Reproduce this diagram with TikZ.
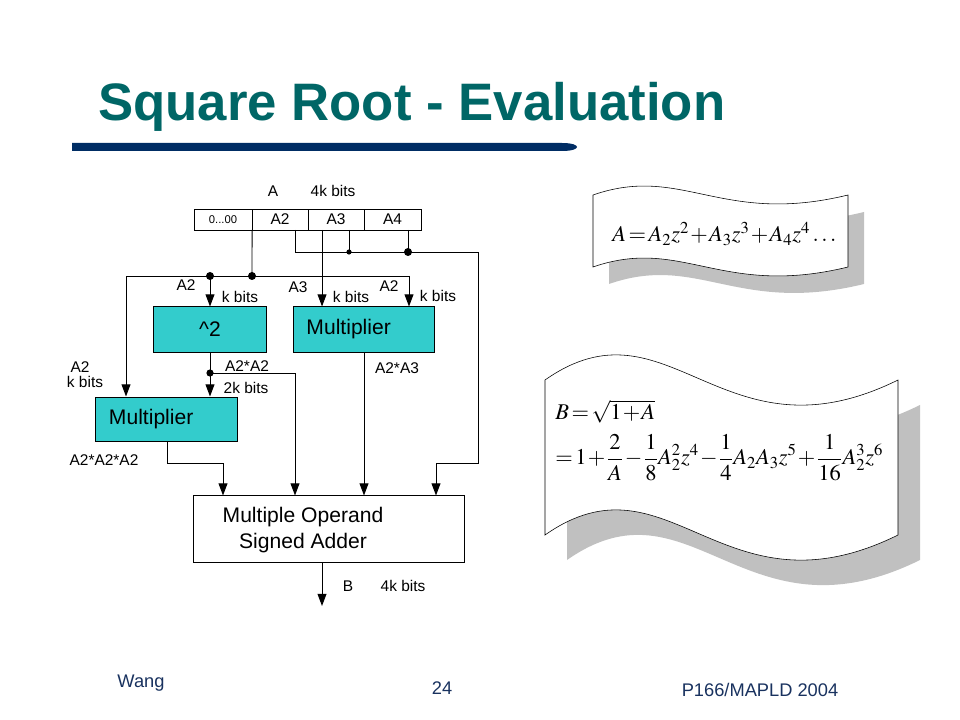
\documentclass[tikz,border=0pt]{standalone}
\usepackage{mathptmx}
\usepackage{fontspec}
\setmainfont{Liberation Sans}
\definecolor{titleteal}{RGB}{0,102,102}
\definecolor{barnavy}{RGB}{0,45,100}
\definecolor{boxcyan}{RGB}{51,204,204}
\definecolor{footblue}{RGB}{25,50,95}
\definecolor{shadowgray}{RGB}{192,192,192}
\usetikzlibrary{positioning,arrows.meta,calc}
\newcommand{\tightmath}{\medmuskip=1mu plus 1mu\relax\thickmuskip=2mu plus 1mu\relax}

\begin{document}
\begin{tikzpicture}[x=0.025cm,y=-0.025cm,
    lbl/.style={font=\fontsize{11}{13}\selectfont,inner sep=0pt},
    regcell/.style={draw,line width=0.7pt,outer sep=0pt,inner sep=0pt,minimum height=0.525cm,minimum width=1.4cm,font=\fontsize{11}{13}\selectfont},
    unit/.style={draw,line width=0.7pt,fill=boxcyan,minimum width=3.525cm,minimum height=1.125cm,font=\fontsize{15}{18}\selectfont},
    sig/.style={line width=0.7pt},
    arr/.style={sig,-{Triangle[length=0.3cm,width=0.22cm]}},
    eqn/.style={anchor=base west,inner sep=0pt,font=\fontsize{16}{19}\selectfont},
    foot/.style={font=\fontsize{13}{15}\selectfont,text=footblue}]
    \useasboundingbox (0,0) rectangle (960,720);

    % title and rule
    \node[anchor=base west,inner sep=0pt,text=titleteal,font=\fontsize{37.5}{44}\selectfont\bfseries] (title) at (98,121) {Square Root - Evaluation};
    \fill[barnavy] (72,143) -- (562,143) .. controls (572,143) and (577,145) .. (577,147) .. controls (577,149) and (572,151) .. (562,151) -- (72,151) -- cycle;

    % register A
    \node[regcell,minimum width=1.45cm] (c0) at (223,219.5) {\fontsize{8}{9}\selectfont 0...00};
    \node[regcell,right=0pt of c0] (cA2) {A2};
    \node[regcell,right=0pt of cA2] (cA3) {A3};
    \node[regcell,minimum width=1.425cm,right=0pt of cA3] (cA4) {A4};
    \node[lbl] (lA) at (273,191) {A};
    \node[lbl] (lA4k) at (333,191) {4k bits};

    % units
    \node[unit,minimum width=2.825cm] (sq) at (210,329.5) {\textasciicircum 2};
    \node[unit,align=left,text width=2.875cm,inner xsep=0.325cm] (mulR) at (364,329.5) {Multiplier};
    \node[unit,align=left,text width=2.875cm,inner xsep=0.325cm,minimum height=1.1cm] (mulL) at (166.5,419) {Multiplier};
    \node[draw,line width=0.7pt,minimum width=6.75cm,minimum height=1.65cm] (adder) at (329,529) {};
    \node[align=center,font=\fontsize{15}{18}\selectfont] (addtxt) at (303,530) {Multiple Operand\\Signed Adder};

    % junctions
    \coordinate (jA) at (252,276);
    \coordinate (jSq) at (210,276);
    \coordinate (busL) at (126,276);
    \coordinate (busR) at (409,276);
    \coordinate (tL) at (295,252);
    \coordinate (tM) at (349,252);
    \coordinate (tN) at (408,252);
    \coordinate (tR) at (478,252);
    \coordinate (tB) at (478,463);
    \coordinate (in4) at (436,463);
    \coordinate (jSq2) at (210,373);
    \coordinate (in2) at (295,373);
    \coordinate (mlo) at (167,463);
    \coordinate (in1) at (223,463);
    \coordinate (bOut) at (322,606);

    % wiring
    \draw[sig] (cA2.south west) -- (jA);
    \draw[arr] (busR) -- (busL) -- (busL |- mulL.north);
    \draw[arr] (busR) -- (busR |- mulR.north);
    \draw[arr] (jSq) -- (jSq |- sq.north);
    \draw[arr] (tL |- cA2.south) -- (tL) -- (tR) -- (tB) -- (in4) -- (in4 |- adder.north);
    \draw[sig] (tM |- cA3.south) -- (tM);
    \draw[sig] (tN |- cA4.south) -- (tN);
    \draw[arr] ([xshift=-0.35cm]cA3.south) -- ([xshift=-0.35cm]cA3.south |- mulR.north);
    \draw[sig] (sq.south) -- (jSq2);
    \draw[arr] (jSq2) -- (jSq2 |- mulL.north);
    \draw[arr] (jSq2) -- (in2) -- (in2 |- adder.north);
    \draw[arr] (mlo |- mulL.south) -- (mlo) -- (in1) -- (in1 |- adder.north);
    \draw[arr] (mulR.south) -- (mulR.south |- adder.north);
    \draw[arr] (adder.south -| bOut) -- (bOut);
    \fill (jA) circle[radius=0.1cm];
    \fill (jSq) circle[radius=0.1cm];
    \fill (tN) circle[radius=0.1cm];
    \fill (tM) circle[radius=0.065cm];
    \fill (jSq2) circle[radius=0.09cm];

    % bus labels
    \node[lbl] (lA2a) at (186,285) {A2};
    \node[lbl] (lka) at (240,297) {k bits};
    \node[lbl] (lA3) at (298,287) {A3};
    \node[lbl] (lkb) at (351,297) {k bits};
    \node[lbl] (lA2b) at (389,286) {A2};
    \node[lbl] (lkc) at (438,296) {k bits};
    \node[lbl] (lA2c) at (80,367) {A2};
    \node[lbl] (lkd) at (85,382) {k bits};
    \node[lbl] (lsq) at (247,366) {A2*A2};
    \node[lbl] (l2k) at (246,388) {2k bits};
    \node[lbl] (lA23) at (397,368) {A2*A3};
    \node[lbl] (lcube) at (104,460) {A2*A2*A2};
    \node[lbl] (lB) at (348,586) {B};
    \node[lbl] (lB4k) at (403,586) {4k bits};

    % scroll with A
    \fill[shadowgray,shift={(16,17)}] (593,195) .. controls (682,164) and (721,226) .. (848,195) -- (848,267) .. controls (721,298) and (682,236) .. (593,267) -- cycle;
    \draw[fill=white] (593,195) .. controls (682,164) and (721,226) .. (848,195) -- (848,267) .. controls (721,298) and (682,236) .. (593,267) -- cycle;
    \node[eqn] (eqA) at (612,242) {$\tightmath A=A_2z^2+A_3z^3+A_4z^4\ldots$};

    % scroll with B
    \fill[shadowgray,shift={(22,25)}] (545,380) .. controls (669,293) and (722,467) .. (898,380) -- (898,535) .. controls (722,622) and (669,448) .. (545,535) -- cycle;
    \draw[fill=white] (545,380) .. controls (669,293) and (722,467) .. (898,380) -- (898,535) .. controls (722,622) and (669,448) .. (545,535) -- cycle;
    \node[eqn] (eqB) at (555,420) {$\tightmath B=\sqrt{1+A}$};
    \node[eqn] (eqC) at (555,465) {$\tightmath\displaystyle =1+\frac{2}{A}-\frac{1}{8}A_2^2z^4-\frac{1}{4}A_2A_3z^5+\frac{1}{16}A_2^3z^6$};

    % footer
    \node[foot] (fWang) at (141,683) {Wang};
    \node[foot] (fPage) at (442,688) {24};
    \node[foot] (fConf) at (760,690) {P166/MAPLD 2004};
\end{tikzpicture}
\end{document}
